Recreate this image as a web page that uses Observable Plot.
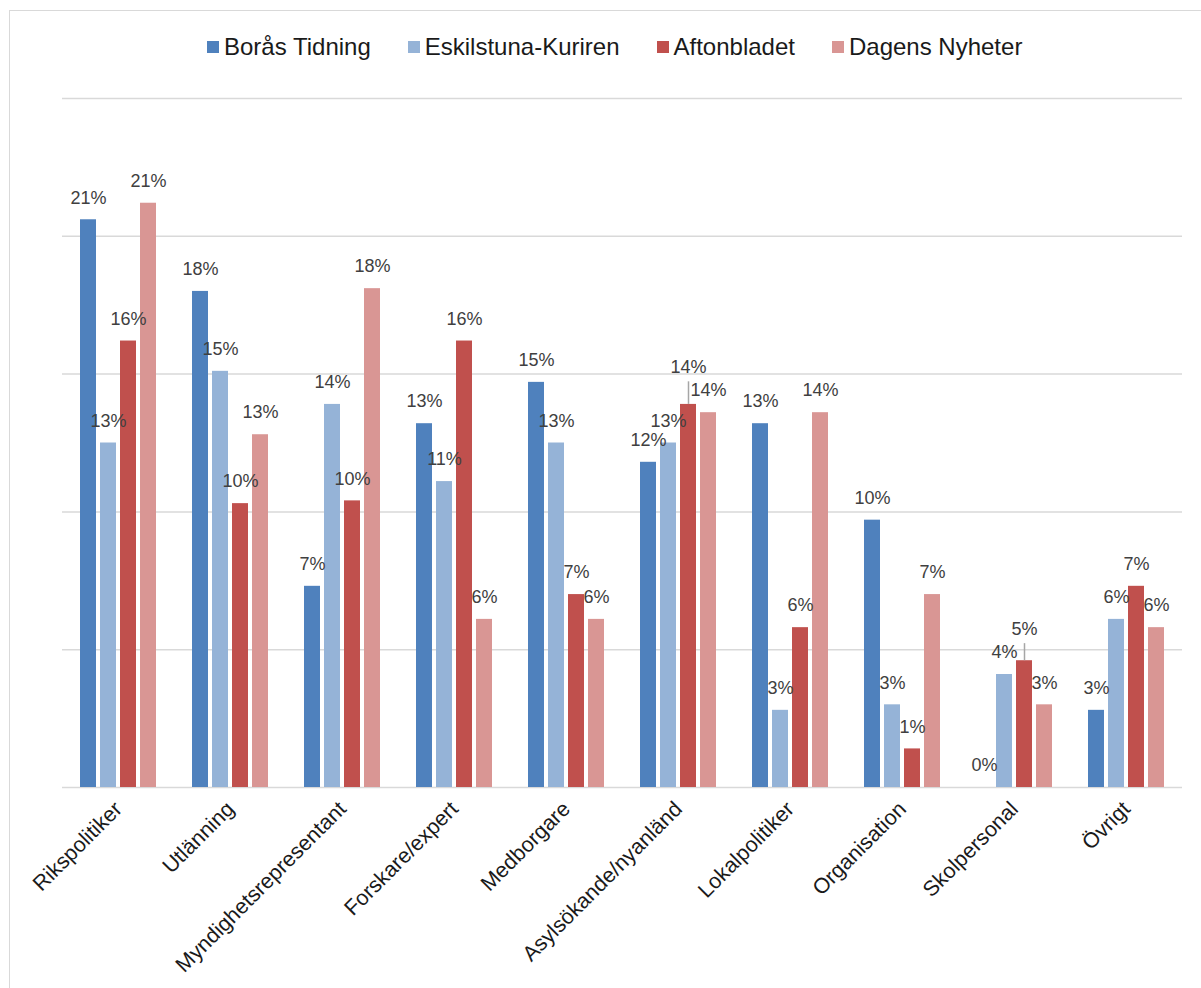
<!DOCTYPE html>
<html><head><meta charset="utf-8">
<script src="https://cdn.jsdelivr.net/npm/d3@7"></script>
<script src="https://cdn.jsdelivr.net/npm/@observablehq/plot@0.6"></script>
<style>
body{margin:0;background:#fff;overflow:hidden;font-family:"Liberation Sans",Arial,sans-serif;}
#frame{position:absolute;left:9px;top:10px;width:1300px;height:1100px;border:1.5px solid #d9d9d9;box-sizing:border-box;pointer-events:none;}
#legend{position:relative;height:80px;}
#legend .row{position:absolute;left:207px;top:33px;display:flex;align-items:center;height:28px;}
#legend .item{display:flex;align-items:center;margin-right:37px;font-size:24px;color:#1a1a1a;line-height:28px;}
#legend .sw{width:12px;height:12px;margin-right:5px;}
#chart{position:relative;}
</style></head>
<body>
<div id="frame"></div>
<div id="legend"><div class="row"></div></div>
<div id="chart"></div>
<script>
const categories = ["Rikspolitiker","Utlänning","Myndighetsrepresentant","Forskare/expert","Medborgare","Asylsökande/nyanländ","Lokalpolitiker","Organisation","Skolpersonal","Övrigt"];
const series = ["Borås Tidning","Eskilstuna-Kuriren","Aftonbladet","Dagens Nyheter"];
const borasTidning      = [20.6, 18.0, 7.3, 13.2, 14.7, 11.8, 13.2, 9.7, 0.0, 2.8];
const eskilstunaKuriren = [12.5, 15.1, 13.9, 11.1, 12.5, 12.5, 2.8, 3.0, 4.1, 6.1];
const aftonbladet       = [16.2, 10.3, 10.4, 16.2, 7.0, 13.9, 5.8, 1.4, 4.6, 7.3];
const dagensNyheter     = [21.2, 12.8, 18.1, 6.1, 6.1, 13.6, 13.6, 7.0, 3.0, 5.8];
const colors = ["#4F81BD","#95B3D7","#C0504D","#D99694"];
const gridTicks = [0,5,10,15,20,25];

const values = [borasTidning, eskilstunaKuriren, aftonbladet, dagensNyheter];
const data = categories.flatMap((c,i)=>series.map((s,j)=>({category:c, series:s, value:values[j][i], lift:0})));

// simple label collision avoidance within each group (lift the higher label)
categories.forEach(c=>{
  const g = data.filter(d=>d.category===c);
  for(let j=1;j<g.length;j++){
    const a=g[j-1], b=g[j];
    if(Math.abs((a.value+a.lift)-(b.value+b.lift))<0.6){
      const hi = a.value>b.value?a:b, lo = hi===a?b:a;
      hi.lift = lo.value+lo.lift+0.85-hi.value;
    }
  }
});
const lifted = data.filter(d=>d.lift>0);

// legend
const row = document.querySelector("#legend .row");
series.forEach((s,i)=>{
  const it=document.createElement("div"); it.className="item";
  const sw=document.createElement("span"); sw.className="sw"; sw.style.background=colors[i];
  const tx=document.createElement("span"); tx.textContent=s;
  it.appendChild(sw); it.appendChild(tx); row.appendChild(it);
});

const font = '"Liberation Sans", Arial, sans-serif';
const chart = Plot.plot({
  width:1201, height:908,
  marginTop:18, marginBottom:201, marginLeft:61, marginRight:18,
  style:{fontFamily:font, background:"transparent"},
  fx:{domain:categories, padding:0, label:null},
  x:{domain:series, paddingInner:0.21, paddingOuter:0.87, axis:null},
  y:{domain:[0,25], axis:null},
  color:{domain:series, range:colors},
  marks:[
    Plot.ruleY(gridTicks, {stroke:"#d9d9d9", strokeWidth:1.5}),
    Plot.barY(data, {fx:"category", x:"series", y:"value", fill:"series"}),
    Plot.ruleX(lifted, {fx:"category", x:"series", y1:"value", y2:d=>d.value+d.lift+0.27, stroke:"#a6a6a6", strokeWidth:1.5}),
    Plot.text(data, {fx:"category", x:"series", y:d=>d.value+d.lift, text:d=>Math.round(d.value)+"%", dy:-22, fontSize:18, fill:"#404040"}),
    Plot.axisFx({anchor:"bottom", tickRotate:-45, tickSize:0, tickPadding:18, fontSize:21.5, fill:"#1a1a1a", label:null})
  ]
});
document.getElementById("chart").appendChild(chart);
</script>
</body></html>
